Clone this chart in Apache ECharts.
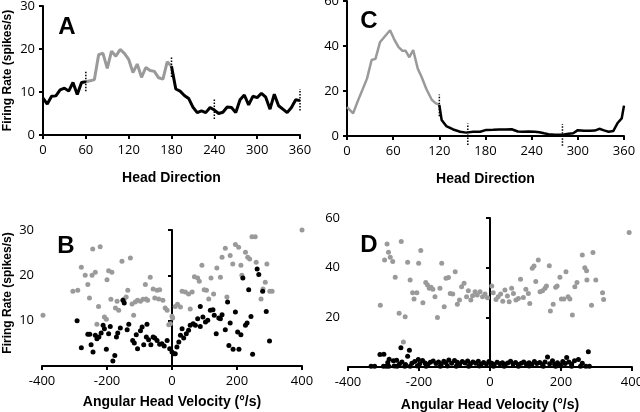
<!DOCTYPE html>
<html><head><meta charset="utf-8">
<script src="https://cdn.jsdelivr.net/npm/echarts@6/dist/echarts.min.js"></script>
<style>html,body{margin:0;padding:0;background:#fff}#c{width:640px;height:412px}</style>
</head><body><div id="c"></div>
<script>
// Panel A: head direction tuning (6 deg bins)
const dirA = [0,6,12,18,24,30,36,42,48,54,60,66,72,78,84,90,96,102,108,114,120,126,132,138,144,150,156,162,168,174,180,186,192,198,204,210,216,222,228,234,240,246,252,258,264,270,276,282,288,294,300,306,312,318,324,330,336,342,348,354,360];
const rateA = [8.6,7.2,9.0,9.1,10.5,10.9,10.2,12.2,9.4,12.2,12.4,12.6,12.9,18.7,19.0,15.5,19.5,18.3,19.9,19.0,17.6,14.5,16.5,13.4,15.7,15.0,14.8,13.3,13.0,17.0,16.0,10.7,10.2,9.2,8.5,6.5,5.2,5.6,5.2,6.4,5.8,5.0,5.3,6.5,6.4,5.2,8.2,9.3,7.0,9.0,8.7,9.7,8.8,6.0,9.5,6.8,6.0,5.2,6.4,8.2,8.0];
const grayRangeA = [60,180];
const markersA = [[60,10.2,15],[180,13.5,18.4],[240,3.7,8.6],[360,5.7,10.7]];

// Panel C
const dirC = [0,8,14,20,26,32,37,43,48,56,61,67,72,76,81,86,92,97,103,110,115,120,123,129,138,147,155,164,173,181,190,198,206,214,222,228,236,244,250,256,262,270,276,282,288,294,300,308,316,322,328,334,340,346,352,357,360];
const rateC = [12.8,10.1,15.5,20.5,25.5,33.8,34.3,41.8,43.8,47,43.2,39.5,37.9,37.9,35,38.2,29.9,26.2,21,16.2,14.6,13.8,7.1,4.4,2.9,1.9,1.5,1.9,1.9,2.7,2.8,2.9,2.9,3.0,2.0,1.9,2.0,1.9,1.7,1.2,0.8,0.6,0.6,0.7,1.0,1.2,2.6,2.3,2.3,2.4,3.2,2.5,1.9,2.2,5.9,7.8,13.5];
const grayRangeC = [0,120];
const markersC = [[120,8.8,18.5],[157,-4,5.6],[280,-4.3,5.3]];

// Panel B: AHV scatter
const ahvBGray = [[-397,11.2],[-305,16.5],[-290,16.7],[-279,21.8],[-267,20],[-259,18],[-254,15],[-246,20],[-244,25.8],[-236,20.7],[-231,9.2],[-226,13.1],[-221,26.3],[-208,10.8],[-202,10.3],[-200,19],[-195,21],[-185,20.7],[-188,14.7],[-174,12.8],[-169,14.3],[-164,12.3],[-154,23.1],[-147,14.8],[-141,15.2],[-136,16.7],[-128,23.8],[-123,13.7],[-118,11.2],[-113,14.1],[-106,14.5],[-97,14.3],[-89,14.7],[-80,14.8],[-82,18],[-75,14.5],[-67,19.6],[-58,17],[-53,15],[-46,16.7],[-38,16.8],[-41,14.8],[-28,14.5],[-21,12.8],[-15,12.3],[-10,9.1],[-5,9.3],[0,11],[2,10.6],[10,13.1],[17,13.6],[26,13],[31,16.5],[41,16.3],[51,15.9],[56,12.6],[62,16.3],[69,19.7],[79,19.4],[84,18.7],[92,22.2],[99,16.8],[106,16.7],[113,14.8],[120,19.4],[128,15.9],[138,21.6],[149,19.6],[154,24],[164,26],[169,15.2],[179,24.4],[187,22.5],[195,26.8],[205,26.2],[212,22.2],[215,20],[226,25.1],[233,24],[239,23.6],[246,28.5],[256,28.5],[259,22.9],[274,14.8],[280,17],[287,18.5],[292,22.5],[301,16.5],[308,16.5],[400,30]];
const ahvBBlack = [[-292,10],[-279,4],[-259,7],[-253,7],[-249,4.7],[-243,3.1],[-236,6.8],[-231,6],[-225,6.4],[-218,7.3],[-212,9],[-208,8.2],[-202,3.7],[-195,7.1],[-190,8.7],[-182,1.1],[-176,2.3],[-171,6.4],[-167,7.3],[-159,8.4],[-151,14.5],[-147,13.9],[-138,8],[-133,9.2],[-121,5.6],[-116,5.1],[-110,6.9],[-106,3.8],[-97,7.8],[-92,8.6],[-87,4.7],[-79,6.4],[-77,9.2],[-72,5.8],[-65,4.7],[-58,6.4],[-53,6.2],[-46,5.6],[-38,4.8],[-31,4.9],[-24,4.4],[-15,5.6],[-7,3.8],[0,3.1],[5,2.7],[10,2.7],[15,4.2],[21,5.3],[26,6.8],[31,8.2],[36,6.2],[44,7.1],[51,7.9],[56,9],[65,9.3],[72,9],[79,10.4],[87,8.7],[95,10.8],[87,13.1],[103,9.7],[110,10.1],[118,12.3],[126,12.4],[130,11.2],[136,7.1],[144,10.6],[149,10.4],[154,11.3],[164,8],[171,14.1],[175,4.5],[179,9.5],[188,3.7],[195,11.9],[202,7.5],[206,3.7],[212,6.9],[218,19.4],[226,9],[231,9.5],[236,16.8],[243,10.9],[248,2.6],[262,21.4],[267,20.2],[279,16.5],[290,12],[300,5.5]];

// Panel D: AHV scatter
const ahvDGray = [[-309,24.9],[-297,43.1],[-290,49.5],[-286,46.2],[-281,44.2],[-274,42.5],[-267,36.1],[-256,21.6],[-250,50.5],[-244,10.1],[-239,20.2],[-232,42.2],[-225,35],[-218,29.9],[-214,27.4],[-206,29.9],[-201,41.8],[-195,46.9],[-189,25.9],[-181,34],[-176,33],[-171,31.7],[-166,32.1],[-161,31.3],[-155,28.3],[-148,19.9],[-141,31.7],[-136,41.8],[-129,24.3],[-124,35.7],[-117,36],[-112,29.6],[-105,29.4],[-98,38.4],[-92,25.3],[-86,27],[-80,32.3],[-73,33.7],[-66,28.3],[-61,30.7],[-54,27],[-49,28.7],[-42,30.3],[-36,29],[-28,30.3],[-21,28.3],[-14,29.4],[-7,27.9],[5,32.6],[9,29.9],[17,27.2],[23,28.3],[30,29.4],[36,26.5],[42,31],[49,28.6],[54,26.3],[61,31.7],[66,29.6],[73,27],[80,27.6],[86,35.3],[94,28],[101,31.3],[108,29.6],[112,25.6],[119,39.8],[124,40.7],[129,34.4],[136,43.1],[141,30.3],[148,30.7],[155,31.7],[159,32.6],[167,40.8],[170,22.6],[178,25.3],[185,32.1],[189,32.6],[197,36.1],[201,27.4],[208,27.4],[214,38.4],[220,28.3],[225,27.4],[232,20.9],[239,32.3],[245,34],[260,45.1],[267,40],[272,38.8],[273,35],[286,24.9],[290,46.1],[298,35],[317,29.9],[320,27.2],[392,54.2]];
const ahvDBlack = [[-335,0.3],[-325,0.3],[-300,0.3],[-292,0.3],[-285,0.3],[-270,0.4],[-262,0.3],[-240,0.3],[-225,0.3],[-205,0.4],[-180,0.3],[-140,0.3],[-120,0.4],[-95,0.3],[-60,0.3],[-30,0.4],[10,0.3],[40,0.3],[80,0.3],[110,0.4],[150,0.3],[185,0.3],[200,0.4],[230,0.3],[255,0.3],[270,0.3],[280,0.3],[-288,1.8],[-272,2.5],[-255,1.2],[-248,2.0],[-238,1.0],[-220,1.5],[-212,2.2],[-198,1.3],[-190,2.6],[-183,1.6],[-175,1.1],[-168,1.9],[-160,2.4],[-152,1.4],[-145,2.0],[-137,1.2],[-130,2.3],[-124,1.7],[-116,2.8],[-108,1.5],[-100,2.6],[-92,1.9],[-85,1.2],[-78,2.2],[-70,1.6],[-63,2.4],[-55,1.3],[-48,2.0],[-40,1.5],[-33,2.3],[-25,1.1],[-18,1.8],[-10,1.2],[-3,2.2],[5,1.5],[12,1.0],[20,1.9],[28,1.3],[35,1.7],[43,1.1],[50,1.6],[58,2.3],[65,1.2],[72,1.8],[80,1.0],[88,1.5],[95,2.0],[102,1.2],[110,1.7],[118,1.1],[125,2.2],[132,1.4],[140,1.8],[148,1.0],[155,2.0],[162,4.0],[168,1.3],[176,2.5],[182,1.1],[190,1.7],[197,0.9],[205,2.2],[212,1.4],[216,3.8],[222,2.0],[230,1.2],[238,2.5],[249,3.0],[260,1.5],[277,6.1],[402,4.5],[-310,5.0],[-299,5.1],[-284,3.1],[-263,2.7],[-251,7.8],[-232,4.3],[-227,6.7],[-202,3.0]];

const ticksHD = [0,360,60];
const ticksAHV = [-400,400,200];

const GRAY = '#9a9a9a';
const tickFont = {fontFamily:'Open Sans', fontSize:13, color:'#000'};
const nameFont = {fontFamily:'Liberation Sans', fontWeight:'bold', fontSize:14, color:'#000'};
const axLine = {show:true, onZero:true, lineStyle:{color:'#000', width:2}};
const axTick = {show:true, length:4, lineStyle:{color:'#000', width:2}};

function segs(xs, ys, lo, hi){
  const gray=[], b1=[], b2=[];
  xs.forEach((x,i)=>{
    const p=[x,ys[i]];
    if(x<=lo) b1.push(p);
    if(x>=lo && x<=hi) gray.push(p);
    if(x>=hi) b2.push(p);
  });
  return {gray,b1,b2};
}
function markerSeries(g, m){
  return m.map(d=>({type:'line', xAxisIndex:g, yAxisIndex:g, data:[[d[0],d[1]],[d[0],d[2]]],
    showSymbol:false, symbol:'none', clip:false, silent:true, animation:false, z:4,
    lineStyle:{color:'#000', width:1.5, type:[1.5,1.5]}}));
}
const sA = segs(dirA, rateA, grayRangeA[0], grayRangeA[1]);
const sC = segs(dirC, rateC, grayRangeC[0], grayRangeC[1]);

function xAx(g, t, name, gap){
  return {gridIndex:g, type:'value', min:t[0], max:t[1], interval:t[2],
    axisLine:axLine, axisTick:axTick, splitLine:{show:false},
    axisLabel:Object.assign({margin:9}, tickFont),
    name:name, nameLocation:'middle', nameGap:gap, nameTextStyle:nameFont};
}
function yAx(g, max, iv, hideZero, name){
  const o = {gridIndex:g, type:'value', min:0, max:max, interval:iv,
    axisLine:axLine, axisTick:axTick, splitLine:{show:false},
    axisLabel:Object.assign({margin:8, formatter:v=> (hideZero && v===0) ? '' : String(v)}, tickFont)};
  if(name){ o.name=name; o.nameLocation='middle'; o.nameGap=29; o.nameRotate=90;
    o.nameTextStyle={fontFamily:'Liberation Sans', fontWeight:'bold', fontSize:12, color:'#000'}; }
  return o;
}
function line(g, data, color, w){
  return {type:'line', xAxisIndex:g, yAxisIndex:g, data:data, showSymbol:false, symbol:'none',
    lineStyle:{color:color, width:w}, animation:false, clip:false, z:3};
}
function scat(g, data, color, z){
  return {type:'scatter', xAxisIndex:g, yAxisIndex:g, data:data, symbolSize:5,
    itemStyle:{color:color, opacity:1}, animation:false, z:z};
}
const letter = (t,x,y)=>({type:'text', x:x, y:y, style:{text:t, fontFamily:'Liberation Sans', fontWeight:'bold', fontSize:24, fill:'#000', align:'center', verticalAlign:'middle'}});

const chart = echarts.init(document.getElementById('c'), null, {renderer:'canvas'});
chart.setOption({
  backgroundColor:'#fff',
  animation:false,
  grid:[
    {left:43, right:340, top:6, bottom:277, outerBoundsMode:'none'},
    {left:347, right:16, top:1, bottom:276, outerBoundsMode:'none'},
    {left:42, right:338, top:230, bottom:46, outerBoundsMode:'none'},
    {left:348, right:8, top:218, bottom:45, outerBoundsMode:'none'}
  ],
  xAxis:[
    xAx(0, ticksHD, 'Head Direction', 36),
    xAx(1, ticksHD, 'Head Direction', 36),
    xAx(2, ticksAHV, 'Angular Head Velocity (°/s)', 29),
    xAx(3, ticksAHV, 'Angular Head Velocity (°/s)', 31)
  ],
  yAxis:[
    yAx(0, 30, 10, false, 'Firing Rate (spikes/s)'),
    yAx(1, 60, 20, false),
    yAx(2, 30, 10, true),
    yAx(3, 60, 20, true)
  ],
  series:[
    line(0, sA.b1, '#000', 3),
    line(0, sA.gray, GRAY, 3),
    line(0, sA.b2, '#000', 3),
    line(1, sC.gray, GRAY, 2.5),
    line(1, sC.b2, '#000', 2.5),
    ...markerSeries(0, markersA),
    ...markerSeries(1, markersC),
    scat(2, ahvBGray, GRAY, 2),
    scat(2, ahvBBlack, '#000', 3),
    scat(3, ahvDGray, GRAY, 2),
    scat(3, ahvDBlack, '#000', 3)
  ],
  graphic:[
    letter('A', 67, 27),
    letter('C', 369, 21),
    letter('B', 66, 246),
    letter('D', 369, 245),
    {type:'text', x:8, y:293, rotation:Math.PI/2,
     style:{text:'Firing Rate (spikes/s)', fontFamily:'Liberation Sans', fontWeight:'bold', fontSize:12, fill:'#000', align:'center', verticalAlign:'middle'}}
  ]
});
</script></body></html>
